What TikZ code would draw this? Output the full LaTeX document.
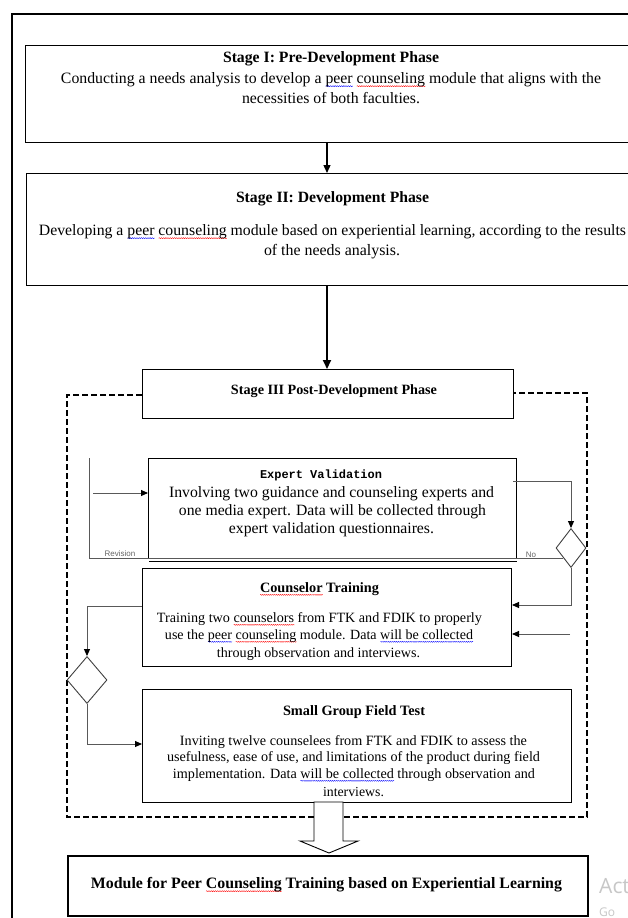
\documentclass[tikz,border=0pt]{standalone}
\usepackage{fontspec}
\setmainfont{Liberation Serif}
\newfontfamily\monof{Liberation Mono}
\newfontfamily\sansf{Liberation Sans}
\newfontfamily\wmf{Open Sans}
\usetikzlibrary{arrows.meta,shapes.geometric,calc,decorations.pathmorphing}
\newcommand\fl[2]{\resizebox{#1pt}{!}{#2}}
\newlength\wvlen
\newcommand\wv[2]{\settowidth\wvlen{#2}\rlap{\raisebox{-2.6pt}{\tikz[baseline=0pt]\draw[#1,line width=0.3pt,decorate,decoration={snake,amplitude=0.45pt,segment length=1.8pt}] (0pt,0pt) -- (\wvlen,0pt);}}#2}
\begin{document}
\begin{tikzpicture}[x=1pt,y=-1pt,
  box/.style={draw=black,line width=1pt,inner sep=0pt,anchor=north west,rectangle},
  txt/.style={anchor=base,inner sep=0pt,font=\fontsize{13}{15}\selectfont},
  conn/.style={draw=black!65,line width=0.9pt},
  tip/.style={-{Triangle[length=7pt,width=6pt,color=black]}},
  dia/.style={diamond,draw=black!75,line width=0.9pt,inner sep=0pt},
  lbl/.style={anchor=base,inner sep=0pt,text=black!60,font=\sansf\fontsize{8}{8}\selectfont}
]
\useasboundingbox (0,0) rectangle (627,918);
\fill[white] (0,0) rectangle (627,918);
\draw[line width=1.8pt] (12,14) rectangle (660,940);

% boxes
\node[box,minimum width=640pt,minimum height=97pt] (s1) at (25,45) {};
\node[box,minimum width=640pt,minimum height=112pt] (s2) at (26,173) {};
\node[box,minimum width=371pt,minimum height=49pt] (s3) at (142,369) {};
\node[box,minimum width=368pt,minimum height=100pt] (ev) at (148,458) {};
\node[box,minimum width=369pt,minimum height=98pt] (ct) at (142,568) {};
\node[box,minimum width=429pt,minimum height=113pt] (sg) at (142,689) {};
\node[box,line width=2pt,minimum width=520pt,minimum height=60pt] (fin) at (67,855) {};
\draw[line width=0.9pt] (ev.south west) ++(1,2) -- ($(ev.south east)+(0,2)$);

% dashed group
\draw[line width=1.5pt,dash pattern=on 6pt off 3pt] (s3.west |- 0,395) -- (67,395) -- (67,817) -- (587,817) -- (587,393) -- (s3.east |- 0,393);

% hollow arrow
\coordinate (ha) at (329,802);
\draw[fill=white,line width=0.9pt] (ha) ++(-15,0) -- ++(0,39) -- ++(-14,0) -- ++(29,12) -- ++(29,-12) -- ++(-15,0) -- ++(0,-39) -- cycle;

% main arrows
\coordinate (cx) at (327,0);
\draw[line width=1.3pt,-{Triangle[length=8pt,width=7pt]}] (s1.south -| cx) -- (s2.north -| cx);
\draw[line width=2pt,-{Triangle[length=9pt,width=8pt]}] (s2.south -| cx) -- (s3.north -| cx);

% diamonds
\node[dia,minimum width=30pt,minimum height=39pt] (dR) at (571,548) {};
\node[dia,minimum width=40pt,minimum height=47pt] (dL) at (87,680) {};

% connectors
\coordinate (rev) at (89,458);
\draw[conn] (dR.south west) -- (dR.south west -| rev) -- (rev);
\coordinate (revin) at (93,493);
\draw[conn,tip] (revin) -- (revin -| ev.west);
\coordinate (evr) at (513,481);
\draw[conn,tip] (evr) -| (dR.north);
\draw[conn,tip] (dR.south) |- (ct.east |- 0,605);
\coordinate (c2) at (570,634);
\draw[conn,tip] (c2) -- (c2 -| ct.east);
\draw[conn,tip] (ct.west |- 0,606) -| (dL.north);
\draw[conn,tip] (dL.south) |- (sg.west |- 0,744);

\node[lbl] (revl) at (120,556) {Revision};
\node[lbl] (nol) at (531,557) {No};

% texts
\node[txt] (t1) at (331,62) {\fl{216}{\bfseries Stage I: Pre-Development Phase}};
\node[txt] (t1a) at (331,83) {\fl{540}{Conducting a needs analysis to develop a \wv{blue}{peer} \wv{red}{counseling} module that aligns with the}};
\node[txt] (t1b) at (331,103) {\fl{178}{necessities of both faculties.}};

\node[txt] (t2) at (332.5,202) {\fl{193}{\bfseries Stage II: Development Phase}};
\node[txt] (t2a) at (332.5,235) {\fl{587}{Developing a \wv{blue}{peer} \wv{red}{counseling} module based on experiential learning, according to the results}};
\node[txt] (t2b) at (332,255) {\fl{136}{of the needs analysis.}};

\node[txt] (t3) at (334,394) {\fl{206}{\bfseries Stage III Post-Development Phase}};

\node[txt] (tev) at (321,478) {\fl{122}{\monof\bfseries Expert Validation}};
\node[txt] (tev1) at (331.5,497) {\fl{325}{Involving two guidance and counseling experts and}};
\node[txt] (tev2) at (332.5,515) {\fl{307}{one media expert. Data will be collected through}};
\node[txt] (tev3) at (331.5,533) {\fl{205}{expert validation questionnaires.}};

\node[txt] (tct) at (319.5,592) {\fl{119}{\bfseries \wv{red}{Counselor} Training}};
\node[txt] (tct1) at (319.5,622) {\fl{325}{Training two \wv{red}{counselors} from FTK and FDIK to properly}};
\node[txt] (tct2) at (319,639) {\fl{308}{use the \wv{blue}{peer} \wv{red}{counseling} module. Data \wv{blue}{will be collected}}};
\node[txt] (tct3) at (318.5,657) {\fl{203}{through observation and interviews.}};

\node[txt] (tsg) at (354,715) {\fl{142}{\bfseries Small Group Field Test}};
\node[txt] (tsg1) at (353.5,745) {\fl{347}{Inviting twelve counselees from FTK and FDIK to assess the}};
\node[txt] (tsg2) at (353.5,761) {\fl{373}{usefulness, ease of use, and limitations of the product during field}};
\node[txt] (tsg3) at (354,778) {\fl{362}{implementation. Data \wv{blue}{will be collected} through observation and}};
\node[txt] (tsg4) at (353.5,796) {\fl{61}{interviews.}};

\node[txt] (tfin) at (326.5,888) {\fl{471}{\bfseries Module for Peer \wv{red}{Counseling} Training based on Experiential Learning}};

% watermark
\node[anchor=base west,inner sep=0pt,text=black!22,font=\wmf\fontsize{21}{21}\selectfont] (wm1) at (599,893) {Act};
\node[anchor=base west,inner sep=0pt,text=black!22,font=\wmf\fontsize{12}{12}\selectfont] (wm2) at (599,916) {Go};
\end{tikzpicture}
\end{document}
